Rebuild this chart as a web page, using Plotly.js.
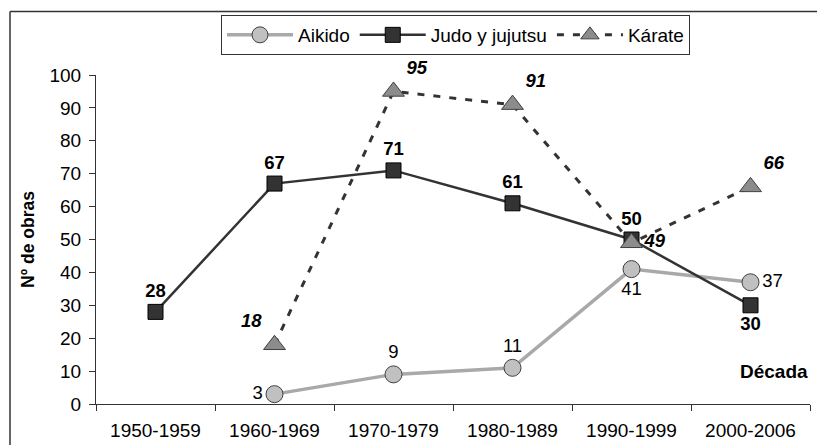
<!DOCTYPE html>
<html>
<head>
<meta charset="utf-8">
<script src="https://cdn.plot.ly/plotly-3.0.1.min.js"></script>
<style>
  html, body { margin: 0; padding: 0; background: #fff; }
  #chart { width: 817px; height: 445px; }
</style>
</head>
<body>
<div id="chart"></div>
<script>
// ---- data ----
const categories = ['1950-1959', '1960-1969', '1970-1979', '1980-1989', '1990-1999', '2000-2006'];
const aikido = [null, 3, 9, 11, 41, 37];
const judo = [28, 67, 71, 61, 50, 30];
const karate = [null, 18, 95, 91, 49, 66];
const seriesNames = ['Aikido', 'Judo y jujutsu', 'Kárate'];
const yTickVals = [0, 10, 20, 30, 40, 50, 60, 70, 80, 90, 100];

// ---- label placement (style, not data) ----
const aikidoPos = ['middle left', 'middle left', 'top center', 'top center', 'bottom center', 'middle right'];
const judoPos = ['top center', 'top center', 'top center', 'top center', 'top center', 'bottom center'];
const karatePos = ['top left', 'top left', 'top right', 'top right', 'middle right', 'top right'];

const FONT = 'Arial, "Liberation Sans", sans-serif';
const DARK = '#333333';
const TICK = 19, LBL = 18.5;

const traces = [
  {
    name: seriesNames[0], x: categories, y: aikido, type: 'scatter',
    mode: 'lines+markers+text', texttemplate: '%{y}', textposition: aikidoPos,
    textfont: { family: FONT, size: LBL, color: '#000' },
    line: { color: '#a9a9a9', width: 3.5 },
    marker: { symbol: 'circle', size: 17, color: '#c0c0c0', line: { color: '#404040', width: 1 } },
    cliponaxis: false
  },
  {
    name: seriesNames[1], x: categories, y: judo, type: 'scatter',
    mode: 'lines+markers+text', texttemplate: '%{y}', textposition: judoPos,
    textfont: { family: FONT, size: LBL, color: '#000', weight: 'bold' },
    line: { color: DARK, width: 2.5 },
    marker: { symbol: 'square', size: 15, color: '#333333', line: { color: '#000', width: 1 } },
    cliponaxis: false
  },
  {
    name: seriesNames[2], x: categories, y: karate, type: 'scatter',
    mode: 'lines+markers+text', texttemplate: '%{y}', textposition: karatePos,
    textfont: { family: FONT, size: LBL, color: '#000', weight: 'bold', style: 'italic' },
    line: { color: DARK, width: 3, dash: '7px,9px' },
    marker: { symbol: 'triangle-up', size: 19, color: '#8c8c8c', line: { color: '#404040', width: 1 } },
    cliponaxis: false
  }
];

// plot area: x 96..810, y 75..404
const L = 96, R = 817 - 810, T = 75, B = 445 - 404;
const pw = 817 - L - R, ph = 445 - T - B;
const px = v => (v - L) / pw;
const py = v => (445 - B - v) / ph;

const layout = {
  width: 817, height: 445,
  margin: { l: L, r: R, t: T, b: B, pad: 0 },
  paper_bgcolor: '#fff', plot_bgcolor: '#fff',
  font: { family: FONT, color: '#000', size: TICK },
  showlegend: true,
  legend: {
    orientation: 'h', x: px(221), y: py(15), xanchor: 'left', yanchor: 'top',
    bordercolor: DARK, borderwidth: 1, bgcolor: '#fff',
    font: { family: FONT, size: 19, color: '#000' },
    itemwidth: 66, tracegroupgap: 0
  },
  xaxis: {
    type: 'category', range: [-0.5, 5.5], fixedrange: true,
    showline: true, linecolor: DARK, linewidth: 1,
    ticks: 'outside', ticklen: 6, tickcolor: DARK, tickwidth: 1,
    tickson: 'boundaries', showgrid: false, zeroline: false,
    tickfont: { family: FONT, size: TICK, color: '#000' },
    ticklabelstandoff: 9
  },
  yaxis: {
    range: [0, 100], fixedrange: true,
    tickmode: 'array', tickvals: yTickVals,
    showline: true, linecolor: DARK, linewidth: 1,
    ticks: 'outside', ticklen: 6, tickcolor: DARK, tickwidth: 1,
    showgrid: false, zeroline: false,
    tickfont: { family: FONT, size: TICK, color: '#000' },
    ticklabelstandoff: 4,
    title: { text: 'Nº de obras', font: { family: FONT, size: 17.5, color: '#000', weight: 'bold' }, standoff: 10 }
  },
  annotations: [
    {
      text: '<b>Década</b>', xref: 'paper', yref: 'y', x: 1, y: 10,
      xanchor: 'right', yanchor: 'middle', showarrow: false,
      font: { family: FONT, size: 19, color: '#000' }
    }
  ],
  shapes: [
    { type: 'line', xref: 'paper', yref: 'paper', x0: px(10), x1: px(10), y0: py(11.5), y1: py(460), line: { color: DARK, width: 1.5 } },
    { type: 'line', xref: 'paper', yref: 'paper', x0: px(10), x1: px(830), y0: py(11.5), y1: py(11.5), line: { color: DARK, width: 1.5 } }
  ]
};

Plotly.newPlot('chart', traces, layout, { displayModeBar: false, staticPlot: true });
</script>
</body>
</html>
